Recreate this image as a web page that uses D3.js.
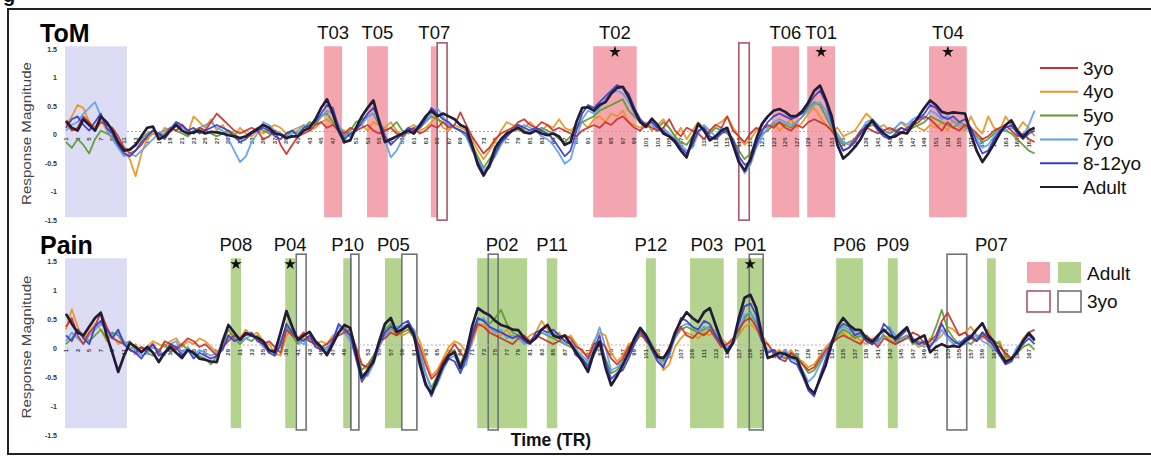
<!DOCTYPE html>
<html>
<head>
<meta charset="utf-8">
<script src="https://cdn.jsdelivr.net/npm/d3@7"></script>
<style>
  body { margin: 0; background: #fff; }
  svg { display: block; font-family: "Liberation Sans", Arial, Helvetica, sans-serif; }
</style>
</head>
<body>
<div id="fig"></div>
<script>
// ---- data ----
const groups = ['3yo', '4yo', '5yo', '7yo', '8-12yo', 'Adult']
const trTicks = d3.range(1, 168, 2)
const restTR = [0.83, 11.5]
const yTicks = [1.5, 1, 0.5, 0, -0.5, -1, -1.5]
const yTickLabels = ['1.5', '1', '0.5', '0', '-0.5', '-1', '-1.5']

// ToM responses, TR 1..168
const tom3 = [
  0.2, 0.05, 0.1, 0.3, 0.2, 0.05, 0.2, 0.15, 0.1, -0.05, -0.25, -0.35,
  -0.3, -0.2, -0.05, 0.05, 0, -0.05, 0.1, 0.05, 0.15, 0.05, 0, 0.1,
  0.05, 0.2, 0.35, 0.25, 0.15, 0.05, 0, 0.05, 0.1, 0.05, -0.1, -0.05,
  0.05, -0.2, -0.36, -0.2, -0.05, 0, 0.05, 0.15, 0.2, 0.1, 0.15, 0.05,
  0, 0.1, 0.05, 0.1, 0.15, 0.05, 0, 0.05, 0.1, 0, -0.05, 0.05,
  0.1, 0, 0.05, 0.15, 0.1, 0.2, 0.1, 0.15, 0.37, 0.15, -0.05, -0.2,
  -0.35, -0.25, -0.1, 0, 0.05, 0.1, 0.2, 0.25, 0.15, 0.1, 0.2, 0.15,
  0.05, 0.1, 0.05, 0, -0.05, 0.05, 0.1, 0.15, 0.1, 0.2, 0.15, 0.25,
  0.3, 0.2, 0.1, 0.05, 0.15, 0.1, 0.05, 0.1, 0.25, 0.05, -0.05, 0.1,
  0.05, 0, -0.1, 0.05, 0.15, 0.1, 0.3, 0.05, -0.05, -0.15, 0, 0.1,
  0.05, 0.15, 0.1, 0.2, 0.1, 0.05, 0.15, 0.1, 0.2, 0.25, 0.2, 0.15,
  0.05, -0.1, -0.3, -0.25, -0.1, 0.05, 0.1, 0.05, 0, 0.05, 0.1, 0.05,
  0, 0.1, 0.15, 0.2, 0.3, 0.25, 0.15, 0.05, 0.2, 0.1, 0.05, 0.15,
  0.1, 0, -0.1, -0.05, 0.05, 0.1, 0.15, 0.05, -0.05, 0, -0.1, -0.15
]
const tom4 = [
  0.15, 0.3, 0.5, 0.45, 0.2, 0.1, 0.25, 0.05, -0.1, -0.2, -0.3, -0.45,
  -0.75, -0.35, -0.1, 0, -0.05, 0.1, 0.05, 0.15, 0.05, 0, 0.3, 0.2,
  0.1, 0.25, 0.05, 0.15, 0, -0.05, 0.1, 0, -0.05, 0.05, 0, 0.1,
  0.15, 0.1, 0, 0.05, 0.1, 0.15, 0.05, 0.1, 0.2, 0.25, 0.15, 0.1,
  0.05, -0.05, 0.1, 0.15, 0.05, 0.2, 0.15, 0.1, 0.2, 0.05, -0.05, 0.1,
  0.15, 0.05, 0.1, 0.2, 0.3, 0.1, 0.05, 0.15, 0.1, 0.05, -0.1, -0.3,
  -0.45, -0.3, -0.15, 0.05, 0.2, 0.15, 0.05, 0.1, 0.2, 0.1, 0.05, 0.15,
  0.1, 0.25, 0.1, 0.05, 0.15, 0.2, 0.1, 0.25, 0.3, 0.2, 0.35, 0.3,
  0.4, 0.2, 0.15, 0.1, 0.2, 0.05, 0.15, 0.25, 0.1, -0.05, 0.1, -0.1,
  0.05, 0.2, 0.1, 0.05, 0.15, 0.2, 0.3, 0.1, -0.05, -0.2, -0.1, 0.05,
  0.15, 0.1, 0.2, 0.05, 0.15, 0.25, 0.1, 0.2, 0.35, 0.45, 0.3, 0.15,
  0.05, 0.1, -0.05, 0, 0.05, 0.2, 0.35, 0.25, 0.1, 0.15, 0.05, 0.1,
  0.2, 0.1, 0.2, 0.1, 0.05, 0.15, 0.1, 0.2, 0.05, 0.25, 0.1, 0.05,
  0.3, 0.1, 0, 0.3, 0.1, 0.05, 0.3, 0.15, 0.05, 0.2, 0.1, -0.05
]
const tom5 = [
  -0.15, -0.25, -0.1, -0.2, -0.35, -0.1, 0.05, 0, -0.05, -0.2, -0.25, -0.3,
  -0.2, -0.1, 0, 0.05, -0.05, 0, 0.1, 0.05, 0, -0.05, 0.05, 0.1,
  0.05, 0, -0.05, 0, 0.05, 0, -0.1, -0.05, 0, 0.1, 0.05, 0,
  0.05, 0, -0.05, 0.05, 0, 0.1, 0.2, 0.15, 0.3, 0.35, 0.2, 0.05,
  -0.05, 0.05, 0.2, 0.25, 0.3, 0.35, 0.15, 0.05, 0.1, 0.2, 0.05, 0,
  0.05, 0.1, 0.2, 0.3, 0.25, 0.2, 0.15, 0.1, 0.05, -0.05, -0.2, -0.4,
  -0.6, -0.45, -0.3, -0.15, -0.05, 0.1, 0.15, 0.05, 0, 0.05, 0.1, 0.05,
  0, -0.1, -0.15, -0.05, 0.1, 0.2, 0.25, 0.3, 0.4, 0.45, 0.5, 0.55,
  0.6, 0.4, 0.3, 0.2, 0.15, 0.2, 0.1, 0.2, 0.1, -0.05, -0.15, -0.2,
  -0.05, 0.15, 0.05, 0, 0.1, 0.05, 0, -0.1, -0.3, -0.45, -0.35, -0.15,
  0, 0.05, 0.15, 0.2, 0.15, 0.1, 0.2, 0.3, 0.45, 0.55, 0.5, 0.3,
  0.1, -0.05, -0.2, -0.15, -0.1, 0, 0.1, 0.15, 0.1, 0.05, 0, 0.05,
  0.1, 0.05, 0.1, 0.15, 0.2, 0.3, 0.25, 0.2, 0.15, 0.1, 0.2, 0.15,
  0.05, -0.05, -0.15, -0.1, 0, 0.1, 0.05, 0, -0.1, -0.2, -0.3, -0.35
]
const tom7 = [
  0.05, 0.15, 0.2, 0.35, 0.45, 0.55, 0.3, 0.1, -0.1, -0.25, -0.4, -0.35,
  -0.4, -0.3, -0.2, -0.1, 0, 0.05, 0.1, 0.2, 0.1, 0.05, 0, 0.1,
  0.15, 0.2, 0.1, 0.05, -0.1, -0.3, -0.5, -0.4, -0.15, 0, 0.2, 0.15,
  0.05, 0, -0.1, 0, 0.05, 0.15, 0.1, 0.2, 0.3, 0.4, 0.35, 0.15,
  0, -0.05, 0.1, 0.15, 0.3, 0.35, 0.2, -0.1, -0.42, -0.3, -0.1, 0.05,
  0.1, 0.15, 0.2, 0.35, 0.45, 0.3, 0.15, 0.1, 0.05, -0.05, -0.3, -0.45,
  -0.65, -0.55, -0.4, -0.2, -0.05, 0.05, 0.1, 0.15, 0.1, 0.05, -0.05, -0.1,
  -0.2, -0.35, -0.53, -0.45, -0.1, 0.25, 0.4, 0.35, 0.45, 0.6, 0.7, 0.75,
  0.7, 0.55, 0.35, 0.2, 0.1, 0.15, 0.05, 0.1, 0, -0.1, -0.2, -0.3,
  -0.25, 0, 0.15, 0.05, -0.05, 0.1, 0.05, -0.15, -0.45, -0.7, -0.55, -0.25,
  -0.05, 0.1, 0.2, 0.25, 0.2, 0.15, 0.2, 0.3, 0.4, 0.5, 0.55, 0.4,
  0.15, 0, -0.15, -0.2, -0.1, 0.05, 0.2, 0.25, 0.15, 0.05, 0, 0.1,
  0.2, 0.15, 0.25, 0.3, 0.25, 0.4, 0.35, 0.25, 0.3, 0.2, 0.15, 0.1,
  0.05, -0.1, -0.25, -0.2, -0.05, 0.1, 0.05, 0.1, 0.05, -0.05, 0.15, 0.4
]
const tom812 = [
  0.1, 0.25, 0.3, 0.15, 0.05, 0.2, 0.35, 0.1, 0, -0.2, -0.35, -0.4,
  -0.3, -0.15, -0.05, 0.05, 0, -0.1, 0.05, 0.2, 0.15, 0.05, 0.1, 0,
  0.05, 0.1, 0.15, 0.1, 0.05, -0.05, -0.15, -0.1, 0, 0.05, 0.1, 0.05,
  -0.05, -0.1, 0, 0.05, -0.05, 0.1, 0.15, 0.2, 0.35, 0.5, 0.45, 0.1,
  -0.1, 0, 0.05, 0.2, 0.35, 0.45, 0.25, -0.05, -0.2, -0.1, 0, 0.1,
  0.05, 0.1, 0.25, 0.45, 0.35, 0.25, 0.2, 0.1, 0.05, 0, -0.25, -0.5,
  -0.7, -0.6, -0.35, -0.15, -0.05, 0.05, 0.15, 0.1, 0.05, 0.1, 0.05, 0,
  -0.1, -0.25, -0.4, -0.3, 0.05, 0.35, 0.5, 0.45, 0.55, 0.65, 0.75, 0.85,
  0.8, 0.7, 0.45, 0.25, 0.15, 0.2, 0.1, 0.05, -0.05, -0.1, -0.25, -0.35,
  -0.2, 0.05, 0.1, -0.05, -0.1, 0, 0.05, -0.1, -0.4, -0.55, -0.5, -0.2,
  0.05, 0.2, 0.3, 0.35, 0.3, 0.25, 0.3, 0.35, 0.5, 0.65, 0.75, 0.55,
  0.2, -0.1, -0.3, -0.25, -0.15, 0, 0.15, 0.2, 0.05, -0.05, -0.1, 0,
  0.1, 0.05, 0.2, 0.25, 0.35, 0.5, 0.45, 0.3, 0.25, 0.3, 0.2, 0.25,
  0.1, -0.15, -0.35, -0.3, -0.1, 0.05, 0.1, 0.15, 0, -0.1, 0, 0.05
]
const tomAdult = [
  0.22, 0.1, 0.05, 0.25, 0.15, 0.05, 0.3, 0.2, 0.05, -0.15, -0.3, -0.28,
  -0.2, -0.05, 0.1, 0.12, -0.1, -0.05, 0.05, 0.15, 0.05, 0, 0.02, 0.05,
  0, 0.03, 0.02, 0, -0.03, -0.05, -0.08, -0.05, 0.02, 0.08, 0.15, 0.1,
  0, -0.02, -0.08, -0.05, -0.05, 0.05, 0.1, 0.25, 0.45, 0.6, 0.35, 0.05,
  -0.15, -0.12, 0.1, 0.3, 0.45, 0.58, 0.2, -0.15, -0.1, -0.05, 0, 0.05,
  0, 0.15, 0.3, 0.4, 0.3, 0.35, 0.3, 0.25, 0.15, 0.1, -0.2, -0.55,
  -0.74, -0.55, -0.25, -0.1, 0, 0.05, 0.1, 0.02, 0, 0.05, 0, -0.03,
  0, -0.05, -0.2, -0.15, 0.2, 0.45, 0.46, 0.4, 0.5, 0.55, 0.7, 0.8,
  0.82, 0.64, 0.4, 0.2, 0.12, 0.26, 0.15, 0, -0.05, -0.15, -0.3, -0.42,
  -0.1, 0.17, 0.05, -0.12, -0.05, 0.05, 0.1, -0.2, -0.5, -0.65, -0.45, -0.1,
  0.17, 0.3, 0.4, 0.43, 0.38, 0.3, 0.31, 0.4, 0.55, 0.75, 0.84, 0.6,
  0.31, -0.2, -0.44, -0.35, -0.24, -0.1, 0.1, 0.23, 0.1, 0, -0.07, -0.05,
  0.02, 0, 0.15, 0.3, 0.45, 0.58, 0.5, 0.38, 0.35, 0.37, 0.36, 0.35,
  0, -0.3, -0.5, -0.35, -0.18, 0, 0.15, 0.23, 0.05, -0.07, 0.05, 0.1
]

// Pain responses, TR 1..168
const pain3 = [
  0.35, 0.5, 0.2, 0.05, 0.25, 0.35, 0.6, 0.35, 0.15, 0.1, 0.05, -0.05,
  -0.1, 0, -0.05, 0.05, -0.1, 0.1, 0.05, -0.05, 0.05, 0.15, 0.1, 0,
  0.05, -0.05, -0.15, 0, 0.1, 0.2, 0.15, 0.25, 0.2, 0.15, 0.05, 0.1,
  0, -0.1, 0.3, 0.2, 0.15, 0.25, 0.1, 0.05, 0, 0.05, 0.15, 0.2,
  0.25, 0.3, 0, -0.3, -0.35, -0.2, 0.1, 0.15, 0.25, 0.2, 0.3, 0.35,
  0.2, 0, -0.3, -0.55, -0.45, -0.25, -0.1, 0.05, -0.1, -0.2, 0.15, 0.4,
  0.35, 0.25, 0.2, 0.15, 0.1, 0.05, 0.15, 0.2, 0.1, 0.2, 0.15, 0.1,
  0.05, 0.1, 0.2, 0.15, 0, -0.05, -0.2, 0.05, 0.1, 0, -0.2, -0.3,
  -0.2, 0, 0.1, 0.25, 0.1, 0, -0.15, -0.2, 0, 0.2, 0.35, 0.2,
  0.15, 0.25, 0.2, 0.3, 0.15, 0, 0.05, 0.15, 0.3, 0.45, 0.5, 0.35,
  0.1, 0.05, -0.1, -0.2, -0.25, -0.1, -0.2, -0.3, -0.4, -0.35, -0.2, -0.05,
  0.05, 0.15, 0.2, 0.15, 0.1, 0.05, 0.2, 0.1, 0, 0.15, 0.1, 0.05,
  0.1, 0.15, 0.25, 0.2, 0.05, 0.1, 0.2, 0.45, 0.59, 0.4, 0.2, 0.25,
  0.15, 0.1, 0.2, 0.1, 0.05, 0, -0.1, -0.2, -0.1, 0.1, 0.25, 0.3
]
const pain4 = [
  0.3, 0.65, 0.35, 0.15, 0.25, 0.4, 0.3, 0.1, 0.2, 0.05, 0.1, -0.05,
  0.05, -0.1, 0, 0.1, 0.05, 0, 0.1, 0.15, 0, 0.1, 0.05, 0.15,
  0.1, 0, -0.1, 0.05, 0.2, 0.25, 0.15, 0.3, 0.2, 0.25, 0.1, 0.05,
  -0.1, -0.15, 0.2, 0.3, 0.1, 0.2, 0.15, 0.05, 0.1, 0.05, 0.2, 0.25,
  0.3, 0.15, -0.05, -0.3, -0.4, -0.2, 0, 0.2, 0.3, 0.25, 0.2, 0.25,
  0.3, 0.1, -0.2, -0.5, -0.4, -0.2, 0, 0.1, 0.05, -0.1, 0.05, 0.35,
  0.4, 0.3, 0.25, 0.2, 0.3, 0.15, 0.2, 0.1, 0.2, 0.25, 0.45, 0.3,
  0.2, 0.25, 0.1, 0.2, 0.05, -0.1, -0.15, 0.1, 0.25, 0.2, -0.1, -0.25,
  -0.15, 0.05, 0.1, 0.2, 0.15, 0.05, -0.1, -0.4, -0.3, 0, 0.15, 0.25,
  0.2, 0.15, 0.25, 0.2, 0.3, 0.15, 0.05, 0.1, 0.2, 0.35, 0.4, 0.3,
  0.2, 0.05, -0.1, -0.05, -0.15, -0.05, -0.2, -0.25, -0.35, -0.3, -0.15, 0,
  0.1, 0.2, 0.25, 0.15, 0.2, 0.1, 0.05, 0.15, 0.1, 0.2, 0.15, 0.05,
  0.1, 0.2, 0.1, 0, 0.05, 0.15, 0.1, 0.2, 0.35, 0.3, 0.2, 0.25,
  0.35, 0.2, 0.15, 0.3, 0.05, 0.1, -0.2, -0.25, -0.05, 0.15, 0.25, 0.15
]
const pain5 = [
  0.05, 0.15, 0.3, 0.2, 0.1, 0.2, 0.3, 0.15, 0.25, 0.2, 0.05, 0.1,
  -0.05, 0, -0.1, -0.15, -0.05, 0.05, -0.1, 0, 0.05, -0.05, -0.1, -0.15,
  -0.2, -0.3, -0.15, 0.05, 0.3, 0.15, 0.05, 0.15, 0.1, 0.2, 0.05, -0.1,
  -0.05, 0.1, 0.35, 0.2, 0.05, 0.15, 0.1, 0.05, -0.05, 0, 0.05, 0.25,
  0.35, 0.2, -0.1, -0.4, -0.3, -0.15, 0.05, 0.3, 0.4, 0.2, 0.25, 0.3,
  0.15, -0.1, -0.45, -0.7, -0.5, -0.25, -0.1, -0.05, -0.3, -0.05, 0.25, 0.5,
  0.45, 0.4, 0.5, 0.64, 0.4, 0.25, 0.2, 0.15, 0.1, 0.15, 0.25, 0.2,
  0.15, 0.1, 0.05, 0, -0.05, -0.2, -0.3, -0.15, 0.05, -0.2, -0.45, -0.4,
  -0.25, -0.1, 0.05, 0.2, 0.15, -0.05, -0.15, -0.25, -0.05, 0.15, 0.3, 0.35,
  0.3, 0.25, 0.3, 0.35, 0.2, 0.05, -0.05, 0.05, 0.25, 0.5, 0.6, 0.4,
  0.1, -0.1, -0.05, -0.15, -0.2, -0.1, -0.15, -0.3, -0.45, -0.4, -0.25, -0.1,
  0.05, 0.2, 0.3, 0.25, 0.15, 0.2, 0.1, 0.05, 0.1, 0.2, 0.1, 0.05,
  0.15, 0.2, 0.05, 0.1, 0.05, 0.1, 0.35, 0.64, 0.3, 0.15, 0.05, 0.1,
  0.05, 0.15, 0.25, 0.15, 0.1, 0.05, -0.15, -0.2, -0.1, 0, 0.05, -0.05
]
const pain7 = [
  0.1, 0.25, 0.15, 0.05, 0.2, 0.3, 0.4, 0.3, 0.2, 0.25, 0.1, 0,
  -0.05, -0.15, -0.1, 0, -0.05, -0.15, 0.05, 0.1, -0.1, 0, -0.15, -0.05,
  -0.1, -0.15, -0.1, 0, 0.15, 0.2, 0.1, 0.15, 0.2, 0.15, 0, -0.05,
  -0.1, 0, 0.3, 0.3, 0.1, 0.05, 0.15, 0.1, 0, -0.05, 0.15, 0.35,
  0.25, 0.1, -0.15, -0.45, -0.5, -0.3, 0, 0.2, 0.3, 0.35, 0.35, 0.4,
  0.3, -0.05, -0.45, -0.75, -0.65, -0.4, -0.2, -0.15, -0.4, -0.3, 0.1, 0.45,
  0.5, 0.35, 0.25, 0.3, 0.15, 0.2, 0.15, 0.05, 0.1, 0.2, 0.25, 0.2,
  0.25, 0.15, 0.05, 0.1, -0.05, -0.15, -0.25, 0.05, 0.34, 0, -0.4, -0.35,
  -0.25, -0.05, 0.1, 0.25, 0.2, 0.05, -0.2, -0.3, -0.15, 0.15, 0.35, 0.4,
  0.35, 0.25, 0.35, 0.3, 0.25, 0.1, 0, 0.05, 0.3, 0.55, 0.6, 0.45,
  0.15, -0.05, -0.1, -0.15, -0.05, -0.2, -0.25, -0.4, -0.6, -0.5, -0.3, -0.1,
  0.1, 0.25, 0.35, 0.3, 0.25, 0.2, 0.15, 0.1, 0.05, 0.25, 0.35, 0.2,
  0.1, 0.2, 0.1, 0.05, 0, 0.05, 0.1, 0.3, 0.15, 0.05, 0.1, 0.05,
  0.15, 0.2, 0.1, 0.05, -0.05, -0.1, -0.25, -0.2, 0, 0.1, 0.2, 0.1
]
const pain812 = [
  0.2, 0.1, 0.3, 0.15, 0.05, 0.35, 0.45, 0.3, 0.15, 0.3, 0.05, -0.05,
  -0.1, -0.2, -0.05, 0.05, -0.15, -0.1, 0.05, 0, -0.15, -0.05, -0.2, -0.1,
  -0.15, -0.2, -0.15, -0.05, 0.2, 0.1, 0.15, 0.2, 0.25, 0.1, 0.05, -0.1,
  -0.15, 0.05, 0.4, 0.25, 0.15, 0.1, 0.2, 0, -0.05, -0.1, 0.1, 0.4,
  0.3, 0.2, -0.2, -0.6, -0.45, -0.2, 0.05, 0.25, 0.35, 0.3, 0.4, 0.45,
  0.25, -0.2, -0.6, -0.85, -0.6, -0.35, -0.2, -0.25, -0.45, -0.2, 0.2, 0.5,
  0.45, 0.35, 0.3, 0.25, 0.2, 0.15, 0.2, 0.1, 0.05, 0.25, 0.3, 0.25,
  0.3, 0.2, 0.1, 0.05, -0.15, -0.2, -0.35, -0.05, 0.2, -0.25, -0.55, -0.45,
  -0.4, -0.2, 0.05, 0.3, 0.15, -0.05, -0.25, -0.35, -0.1, 0.2, 0.5, 0.45,
  0.35, 0.3, 0.45, 0.4, 0.2, 0.05, -0.05, 0.1, 0.4, 0.7, 0.75, 0.55,
  0.1, -0.1, -0.05, -0.2, -0.1, -0.25, -0.3, -0.5, -0.75, -0.85, -0.5, -0.2,
  0.1, 0.3, 0.4, 0.35, 0.2, 0.25, 0.1, 0.05, 0.15, 0.4, 0.3, 0.1,
  0.2, 0.3, 0.15, 0.05, 0.1, 0, 0.15, 0.4, 0.2, 0.1, 0.05, 0.15,
  0.2, 0.1, 0.25, 0.15, 0, -0.15, -0.3, -0.25, -0.05, 0.05, 0.15, 0.05
]
const painAdult = [
  0.57, 0.4, 0.25, 0.2, 0.35, 0.5, 0.59, 0.2, -0.1, -0.43, -0.15, 0.07,
  0, -0.09, 0, -0.1, -0.26, -0.1, 0, -0.1, -0.19, -0.05, -0.1, -0.2,
  -0.22, -0.25, -0.26, 0.1, 0.38, 0.25, 0.12, 0.24, 0.2, 0.16, 0.1, -0.05,
  -0.09, 0.25, 0.62, 0.35, 0.12, 0.2, 0.26, 0.1, 0, -0.14, 0.05, 0.25,
  0.38, 0.33, -0.1, -0.53, -0.4, -0.26, 0.1, 0.4, 0.5, 0.26, 0.3, 0.38,
  0.2, -0.3, -0.65, -0.8, -0.55, -0.31, -0.15, -0.09, -0.36, -0.1, 0.35, 0.67,
  0.6, 0.55, 0.45, 0.38, 0.35, 0.3, 0.29, 0.15, 0.07, 0.15, 0.3, 0.38,
  0.2, 0.16, 0.2, 0.05, -0.1, -0.25, -0.43, -0.1, 0.09, -0.35, -0.66, -0.5,
  -0.31, -0.1, 0.15, 0.33, 0.2, 0, -0.17, -0.19, -0.05, 0.25, 0.45, 0.6,
  0.5, 0.43, 0.6, 0.67, 0.38, 0.1, -0.1, 0.07, 0.5, 0.85, 0.9, 0.67,
  0.2, -0.19, -0.15, -0.1, -0.12, -0.17, -0.2, -0.45, -0.7, -0.8, -0.55, -0.31,
  0.05, 0.35, 0.5, 0.38, 0.3, 0.29, 0.15, 0.09, 0.2, 0.3, 0.2, 0.15,
  0.25, 0.34, 0.09, 0.15, 0.2, -0.09, 0, 0.05, 0, 0.02, 0, 0.1,
  0.17, 0.3, 0.41, 0.2, 0.09, -0.1, -0.26, -0.2, -0.09, 0.1, 0.24, 0.12
]

// event windows (TR units)
const tomEvents = ['T03', 'T05', 'T07', 'T02', 'T06', 'T01', 'T04']
const tomStart = [45.5, 52.9, 63.9, 91.9, 122.7, 128.8, 149.8]
const tomEnd = [48.6, 56.5, 65.1, 99.4, 127.4, 133.6, 156.3]
const tomStar = [false, false, false, true, false, true, true]
const tomKidStart = [65.0, 117.0]
const tomKidEnd = [66.7, 118.8]

const painEvents = ['P08', 'P04', 'P10', 'P05', 'P02', 'P11', 'P12', 'P03', 'P01', 'P06', 'P09', 'P07']
const painStart = [29.4, 38.8, 48.8, 56.0, 71.9, 83.9, 101.0, 108.6, 116.7, 133.8, 142.7, 159.8]
const painEnd = [31.2, 40.5, 50.3, 58.9, 80.5, 85.7, 102.7, 114.4, 121.2, 138.4, 144.4, 161.3]
const painStar = [true, true, false, false, false, false, false, false, true, false, false, false]
const painKidStart = [40.7, 50.1, 58.9, 73.8, 118.8, 152.9]
const painKidEnd = [42.4, 51.5, 61.5, 75.5, 121.2, 156.3]

// ---- drawing ----
const width = 1151, height = 456
const colors = ['#c9322c', '#e99322', '#5c9a2e', '#5fa0ea', '#3a3cc8', '#221c36']
const drawOrder = [1, 2, 3, 0, 4, 5]

const svg = d3.select('#fig').append('svg')
  .attr('width', width).attr('height', height)

const x = d3.scaleLinear().domain([1, 168]).range([66, 1034.6])

// frame + cut-off figure caption
svg.append('text').text('g').attr('x', 3).attr('y', 2)
  .attr('font-size', 20).attr('font-weight', 'bold').attr('fill', '#111')
svg.append('rect').attr('x', 8).attr('y', 9).attr('width', 1160).attr('height', 445)
  .attr('fill', 'none').attr('stroke', '#222').attr('stroke-width', 2)

function drawPanel(p) {
  const y = d3.scaleLinear().domain([-1.5, 1.5]).range([p.bottom, p.top])
  const g = svg.append('g')
  const bandY = y(p.bandHi), bandH = y(p.bandLo) - y(p.bandHi)
  const boxY = y(p.boxHi), boxH = y(p.boxLo) - y(p.boxHi)

  g.append('rect')
    .attr('x', x(restTR[0])).attr('width', x(restTR[1]) - x(restTR[0]))
    .attr('y', bandY).attr('height', bandH)
    .attr('fill', '#dcdcf4')

  // 3yo windows: white backing
  g.selectAll('.kidfill').data(p.kidStart).enter().append('rect')
    .attr('x', (d) => x(d)).attr('width', (d, i) => x(p.kidEnd[i]) - x(d))
    .attr('y', boxY).attr('height', boxH).attr('fill', '#fff')

  g.selectAll('.band').data(p.start).enter().append('rect')
    .attr('x', (d) => x(d)).attr('width', (d, i) => x(p.end[i]) - x(d))
    .attr('y', bandY).attr('height', bandH)
    .attr('fill', p.bandColor)

  g.selectAll('.kidbox').data(p.kidStart).enter().append('rect')
    .attr('x', (d) => x(d)).attr('width', (d, i) => x(p.kidEnd[i]) - x(d))
    .attr('y', boxY).attr('height', boxH)
    .attr('fill', 'none').attr('stroke', p.boxColor).attr('stroke-width', 1.6)

  // zero line
  g.append('line')
    .attr('x1', x(restTR[1])).attr('x2', x(168))
    .attr('y1', y(0) - 2).attr('y2', y(0) - 2)
    .attr('stroke', p.zeroColor).attr('stroke-dasharray', '2,2').attr('stroke-width', 1)

  // TR tick labels along zero
  g.selectAll('.trtick').data(trTicks).enter().append('text')
    .text((d) => d)
    .attr('transform', (d) => `translate(${x(d)}, ${y(0) + p.tickGap}) rotate(-90)`)
    .attr('text-anchor', 'end').attr('dominant-baseline', 'central')
    .attr('font-size', 6).attr('font-weight', 'bold').attr('fill', '#444')

  const line = d3.line().x((d, i) => x(i + 1)).y((d) => y(d))
  drawOrder.forEach((k) => {
    g.append('path').datum(p.series[k])
      .attr('d', line)
      .attr('fill', 'none')
      .attr('stroke', colors[k])
      .attr('stroke-width', k === 5 ? 2.7 : 1.8)
      .attr('stroke-linejoin', 'round')
      .attr('opacity', k === 5 ? 1 : 0.92)
  })

  // event labels + stars
  g.selectAll('.evlabel').data(p.events).enter().append('text')
    .text((d) => d)
    .attr('x', (d, i) => x((p.start[i] + p.end[i]) / 2))
    .attr('y', y(1.5) - 9)
    .attr('text-anchor', 'middle').attr('font-size', 18.5).attr('fill', '#111')

  g.selectAll('.star').data(p.events.filter((d, i) => p.stars[i])).enter().append('path')
    .attr('d', d3.symbol(d3.symbolStar, 42))
    .attr('transform', (d) => {
      const i = p.events.indexOf(d)
      return `translate(${x((p.start[i] + p.end[i]) / 2)}, ${y(1.43)})`
    })
    .attr('fill', '#111')

  // y ticks
  g.selectAll('.ytick').data(yTicks).enter().append('text')
    .text((d, i) => yTickLabels[i])
    .attr('x', 57).attr('y', (d) => y(d) + 1)
    .attr('text-anchor', 'end').attr('dominant-baseline', 'central')
    .attr('font-size', 7).attr('font-weight', 'bold').attr('fill', '#333')

  g.append('text').text('Response Magnitude')
    .attr('transform', `translate(27, ${y(0)}) rotate(-90)`)
    .attr('text-anchor', 'middle').attr('dominant-baseline', 'central')
    .attr('font-size', 12.5).attr('fill', '#444')
    .attr('textLength', 143).attr('lengthAdjust', 'spacingAndGlyphs')

  g.append('text').text(p.title)
    .attr('x', 40).attr('y', y(1.5) + p.titleDy)
    .attr('font-size', 25).attr('font-weight', 'bold').attr('fill', '#000')
}

drawPanel({
  title: 'ToM', top: 48, bottom: 219, titleDy: -6, tickGap: 4,
  series: [tom3, tom4, tom5, tom7, tom812, tomAdult],
  events: tomEvents, start: tomStart, end: tomEnd, stars: tomStar,
  kidStart: tomKidStart, kidEnd: tomKidEnd,
  bandColor: '#f3a6af', boxColor: '#a9586a', zeroColor: '#a89ae0',
  bandHi: 1.53, bandLo: -1.47, boxHi: 1.59, boxLo: -1.52
})

drawPanel({
  title: 'Pain', top: 260, bottom: 434, titleDy: -6, tickGap: 2,
  series: [pain3, pain4, pain5, pain7, pain812, painAdult],
  events: painEvents, start: painStart, end: painEnd, stars: painStar,
  kidStart: painKidStart, kidEnd: painKidEnd,
  bandColor: '#b3d38e', boxColor: '#6e7479', zeroColor: '#d4a0c0',
  bandHi: 1.53, bandLo: -1.4, boxHi: 1.6, boxLo: -1.43
})

// ToM legend
const legend = svg.append('g')
legend.selectAll('line').data(groups).enter().append('line')
  .attr('x1', 1040).attr('x2', 1078)
  .attr('y1', (d, i) => 68 + i * 23.8).attr('y2', (d, i) => 68 + i * 23.8)
  .attr('stroke', (d, i) => colors[i]).attr('stroke-width', 2)
legend.selectAll('text').data(groups).enter().append('text')
  .text((d) => d)
  .attr('x', 1083).attr('y', (d, i) => 68 + i * 23.8 + 6.5)
  .attr('font-size', 19).attr('fill', '#111')

// Pain legend: windows
const key = svg.append('g')
const keyFill = ['#f3a6af', '#b3d38e']
const keyStroke = ['#a9586a', '#6e7479']
key.selectAll('.kf').data(keyFill).enter().append('rect')
  .attr('x', (d, i) => 1027 + i * 31).attr('y', 262).attr('width', 23).attr('height', 21)
  .attr('fill', (d) => d)
key.selectAll('.ks').data(keyStroke).enter().append('rect')
  .attr('x', (d, i) => 1027 + i * 31).attr('y', 291).attr('width', 23).attr('height', 21)
  .attr('fill', '#fff').attr('stroke', (d) => d).attr('stroke-width', 1.6)
key.append('text').text('Adult').attr('x', 1087).attr('y', 280)
  .attr('font-size', 19).attr('fill', '#111')
key.append('text').text('3yo').attr('x', 1087).attr('y', 308)
  .attr('font-size', 19).attr('fill', '#111')

svg.append('text').text('Time (TR)')
  .attr('x', 551).attr('y', 446)
  .attr('text-anchor', 'middle').attr('font-size', 17.5).attr('font-weight', 'bold')
  .attr('fill', '#111')
</script>
</body>
</html>
